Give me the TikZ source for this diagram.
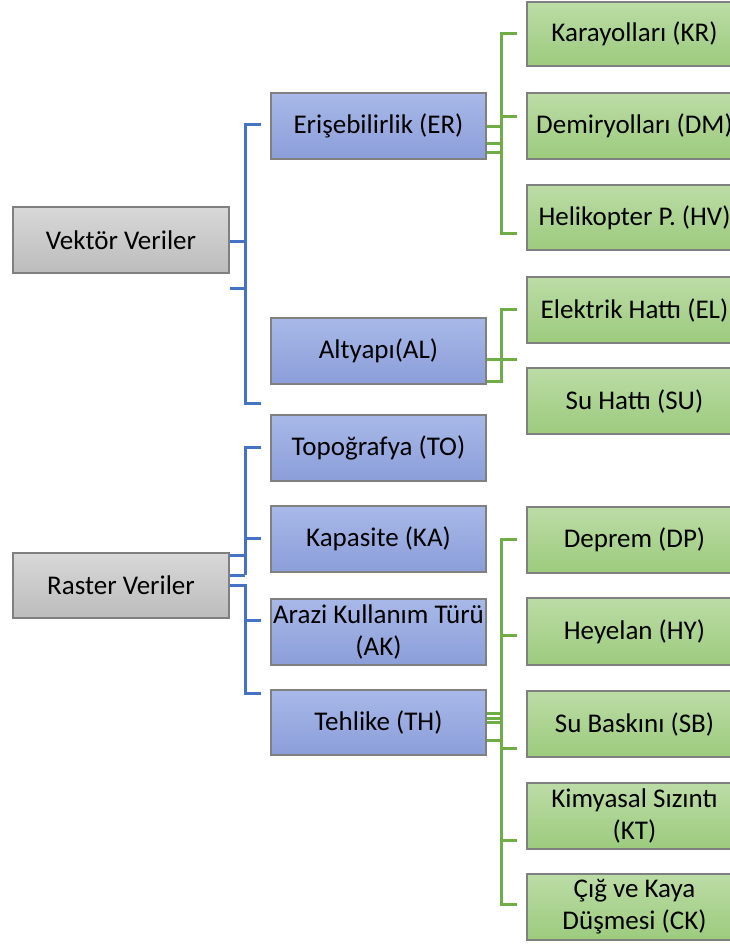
\documentclass[tikz,border=0pt]{standalone}
\usepackage{fontspec}
\setmainfont{Carlito}
\definecolor{blueline}{HTML}{4472C4}
\definecolor{greenline}{HTML}{70AD47}
\definecolor{gtop}{HTML}{D8D8D8}
\definecolor{gbot}{HTML}{BCBCBC}
\definecolor{btop}{HTML}{A8B8E8}
\definecolor{bbot}{HTML}{8B9ED9}
\definecolor{grtop}{HTML}{BCDCA6}
\definecolor{grbot}{HTML}{9CCB7D}
\begin{document}
\begin{tikzpicture}[x=1pt,y=-1pt]
\tikzset{
  bl/.style={draw=blueline, line width=3pt},
  gl/.style={draw=greenline, line width=3pt},
  box/.style={rectangle, minimum width=215pt, minimum height=66pt, inner sep=0pt,
    align=center, font=\fontsize{27}{32}\selectfont, draw=black!50, line width=1.4pt},
  graybox/.style={box, top color=gtop, bottom color=gbot, minimum width=216pt},
  bluebox/.style={box, top color=btop, bottom color=bbot},
  greenbox/.style={box, top color=grtop, bottom color=grbot},
}
\path[use as bounding box, clip] (0,0) rectangle (730,945);
% level 0
\node[graybox] (VV) at (121,240) {Vektör Veriler};
\node[graybox, minimum height=65pt] (RV) at (121,585.5) {Raster Veriler};
% level 1
\node[bluebox] (ER) at (378.5,126) {Erişebilirlik (ER)};
\node[bluebox] (AL) at (378.5,351) {Altyapı(AL)};
\node[bluebox] (TO) at (378.5,448) {Topoğrafya (TO)};
\node[bluebox] (KA) at (378.5,539) {Kapasite (KA)};
\node[bluebox] (AK) at (378.5,632) {Arazi Kullanım Türü\\(AK)};
\node[bluebox, minimum height=65pt] (TH) at (378.5,722.5) {Tehlike (TH)};
% level 2
\node[greenbox, minimum height=64pt] (KR) at (634.5,34) {Karayolları (KR)};
\node[greenbox] (DM) at (634.5,126) {Demiryolları (DM)};
\node[greenbox, minimum height=65pt] (HV) at (634.5,217.5) {Helikopter P. (HV)};
\node[greenbox] (EL) at (634.5,310) {Elektrik Hattı (EL)};
\node[greenbox] (SU) at (634.5,401) {Su Hattı (SU)};
\node[greenbox] (DP) at (634.5,540) {Deprem (DP)};
\node[greenbox, minimum height=67pt] (HY) at (634.5,631.5) {Heyelan (HY)};
\node[greenbox] (SB) at (634.5,724) {Su Baskını (SB)};
\node[greenbox] (KT) at (634.5,816) {Kimyasal Sızıntı\\(KT)};
\node[greenbox] (CK) at (634.5,907) {Çığ ve Kaya\\Düşmesi (CK)};
% blue connectors: Vektör
\draw[bl] (VV.east |- 0,241) -- (245,241);
\draw[bl] (VV.south east |- 0,288) -- (245,288);
\draw[bl] ([xshift=-9pt]ER.west |- 0,124) -| (245,403) -- ([xshift=-9pt]AL.west |- 0,403);
% blue connectors: Raster
\draw[bl] (RV.east |- 0,555) -- (245,555);
\draw[bl] (RV.east |- 0,575) -- (245,575);
\draw[bl] ([xshift=-9pt]TO.west |- 0,447) -| (245,575);
\draw[bl] (245,538) -- ([xshift=-9pt]KA.west |- 0,538);
\draw[bl] (RV.east |- 0,585) -| (245,693) -- ([xshift=-9pt]TH.west |- 0,693);
\draw[bl] (245,620) -- ([xshift=-9pt]AK.west |- 0,620);
% green connectors: ER
\draw[gl] ([xshift=-9pt]KR.west |- 0,33) -| (501,233) -- ([xshift=-9pt]HV.west |- 0,233);
\draw[gl] (501,116) -- ([xshift=-9pt]DM.west |- 0,116);
\foreach \yy in {126,143,152} \draw[gl] (ER.east |- 0,\yy) -- (501,\yy);
% green connectors: AL
\draw[gl] ([xshift=-9pt]EL.west |- 0,309) -| (501,381) -- (AL.east |- 0,381);
\draw[gl] (AL.east |- 0,359) -- ([xshift=-9pt]SU.west |- 0,359);
% green connectors: TH
\draw[gl] ([xshift=-9pt]DP.west |- 0,539) -| (501,904) -- ([xshift=-9pt]CK.west |- 0,904);
\draw[gl] (501,635) -- ([xshift=-9pt]HY.west |- 0,635);
\draw[gl] (501,748) -- ([xshift=-9pt]SB.west |- 0,748);
\draw[gl] (501,840) -- ([xshift=-9pt]KT.west |- 0,840);
\foreach \yy in {713,718,722,740} \draw[gl] (TH.east |- 0,\yy) -- (501,\yy);
\end{tikzpicture}
\end{document}
